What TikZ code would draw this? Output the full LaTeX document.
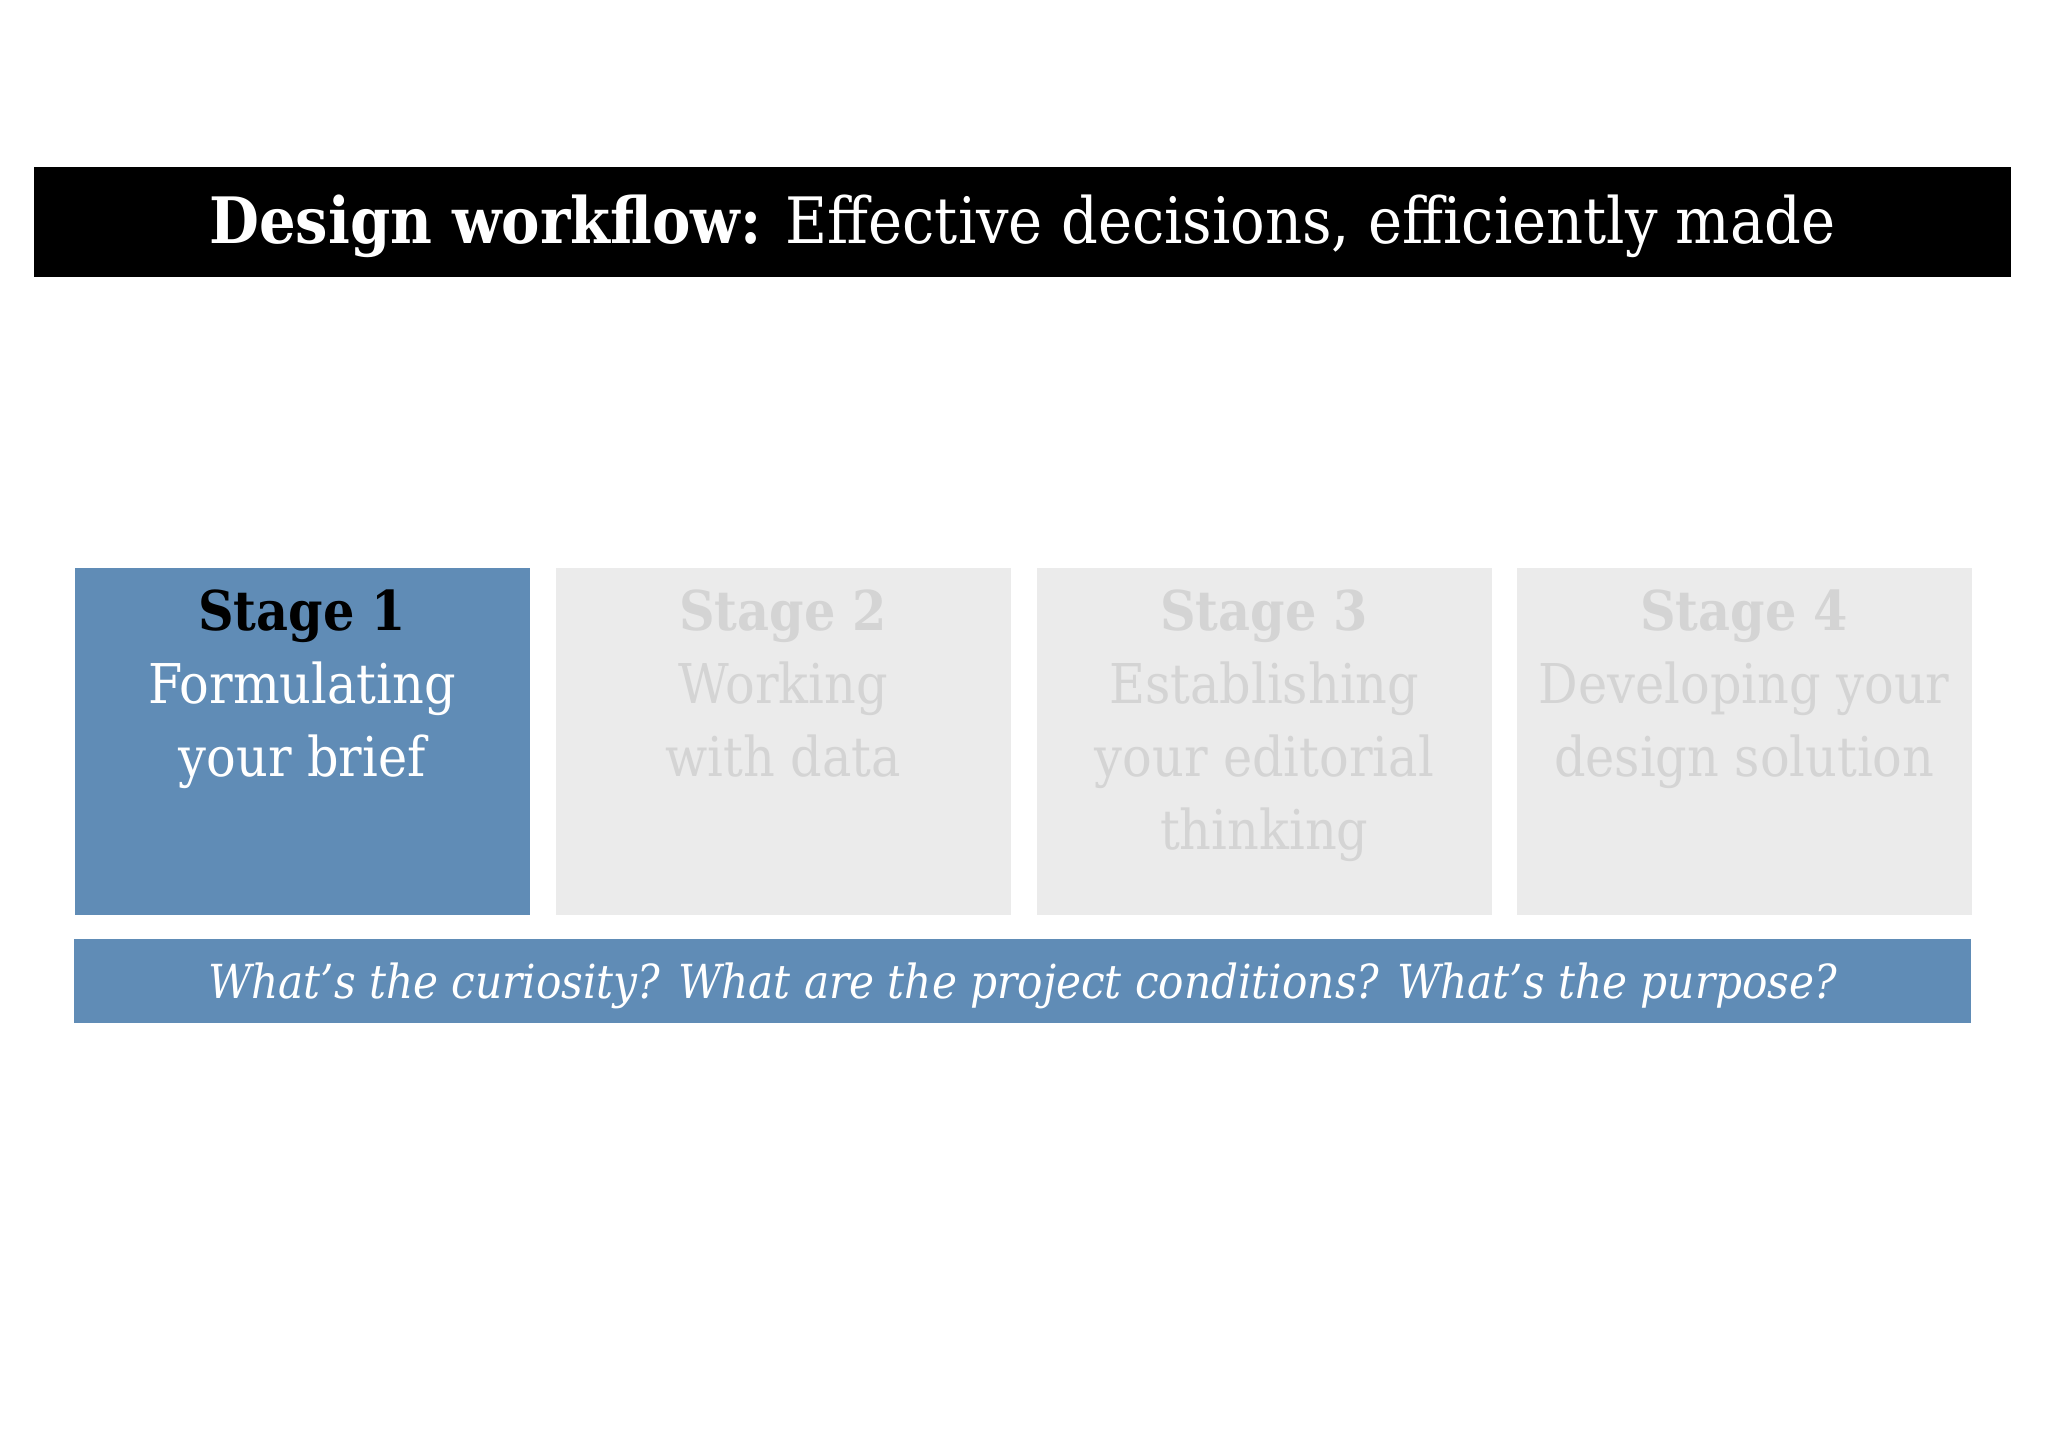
\documentclass[tikz,border=0pt]{standalone}
\usepackage{fontspec}
\setmainfont{DejaVu Serif Condensed}
\usepackage{tikz}
\usetikzlibrary{positioning}
\definecolor{steel}{RGB}{96,140,182}
\definecolor{pale}{RGB}{235,235,235}
\definecolor{faded}{RGB}{212,212,212}
\tikzset{
  bar/.style={inner sep=0pt,minimum height=8.4mm},
  stagebox/.style={inner sep=0pt,minimum width=45.5mm,minimum height=34.7mm,anchor=north west},
  stagetxt/.style={align=center,inner sep=0pt,font=\fontsize{15.6}{20.8}\selectfont},
  ques/.style={font=\fontsize{13.35}{16}\selectfont\itshape,text=white}
}
\begin{document}
\begin{tikzpicture}
\useasboundingbox (0,0) rectangle (20.48,14.48);
\fill[white] (0,0) rectangle (20.48,14.48);
% title bar
\node[fill=black,inner sep=0pt,minimum width=197.7mm,minimum height=11mm] (head) at (10.225,12.26) {};
\node[text=white,font=\fontsize{18.2}{22}\selectfont] at ([yshift=-0.4mm]head.center) {\textbf{Design workflow:} Effective decisions, efficiently made};
% stages
\node[stagebox,fill=steel] (s1) at (0.74,8.81) {};
\node[stagebox,fill=pale] (s2) at (5.55,8.81) {};
\node[stagebox,fill=pale] (s3) at (10.36,8.81) {};
\node[stagebox,fill=pale] (s4) at (15.16,8.81) {};
\node[stagetxt,text=white,below=2.2mm of s1.north] (t1) {{\color{black}\textbf{Stage 1}}\\Formulating\\your brief};
\node[stagetxt,text=faded,below=2.2mm of s2.north] (t2) {\textbf{Stage 2}\\Working\\with data};
\node[stagetxt,text=faded,below=2.2mm of s3.north] (t3) {\textbf{Stage 3}\\Establishing\\your editorial\\thinking};
\node[stagetxt,text=faded,below=2.2mm of s4.north] (t4) {\textbf{Stage 4}\\Developing your\\design solution};
% questions
\node[bar,fill=steel,minimum width=189.7mm] (q) at (10.225,4.67) {};
\node[ques] at ([yshift=-0.5mm]q.center) {What’s the curiosity? What are the project conditions? What’s the purpose?};
\end{tikzpicture}
\end{document}
